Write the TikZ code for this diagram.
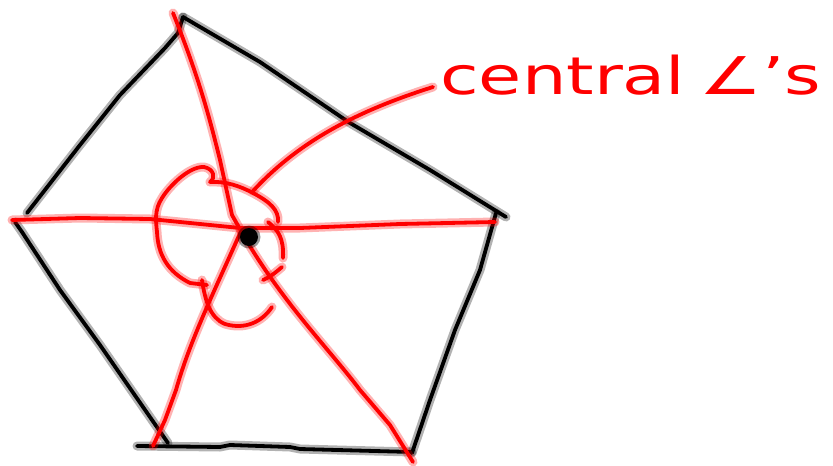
\documentclass[tikz,border=0pt]{standalone}
\usepackage{fontspec}
\setmainfont{DejaVu Sans}
\begin{document}
\begin{tikzpicture}[x=1pt,y=-1pt,
  line cap=round, line join=round,
  blk/.style={draw=black, line width=3.8pt,
    preaction={draw=black, line width=9pt, opacity=0.3}},
  rd/.style={draw=red, line width=3.8pt,
    preaction={draw=red, line width=9pt, opacity=0.3}},
  lbl/.style={text=red, font=\fontsize{52}{52}\selectfont, inner sep=0pt, anchor=base west, xscale=1.35}]
\useasboundingbox (0,0) rectangle (833,466);
% vertices
\coordinate (T) at (183,17);
\coordinate (R) at (506,217);
\coordinate (BR) at (412,453);
\coordinate (BL) at (137,446);
\coordinate (L) at (14,221);
\coordinate (O) at (241,231);
% pentagon (black)
\draw[blk] (T) -- (178,33) -- (165,48) -- (120,95) -- (80,145) -- (27,213);
\draw[blk] (T) -- (260,62) -- (350,123) -- (430,170) -- (R);
\draw[blk] (496,213) -- (480,270) -- (455,330) -- (430,400) -- (BR);
\draw[blk] (BL) -- (220,447) -- (230,445) -- (290,447) -- (300,449) -- (412,452);
\draw[blk] (15,222) -- (22,232) -- (60,290) -- (100,345) -- (168,443);
% red radii
\draw[rd] (173,13) .. controls (200,80) and (210,120) .. (220,160) -- (232,215) -- (O);
\draw[rd] (12,220) -- (80,218) -- (150,219) -- (240,228) -- (300,228) -- (400,224) -- (495,222);
\draw[rd] (O) .. controls (215,290) and (190,340) .. (176,390) -- (165,420) -- (153,446);
\draw[rd] (O) .. controls (280,300) and (330,350) .. (360,390) -- (390,425) -- (413,462);
% leader line
\draw[rd] (253,191) .. controls (300,140) and (360,110) .. (433,87);
% angle arcs
\draw[rd] (278,222) .. controls (279,210) and (270,202) .. (253,193)
  .. controls (240,186) and (225,181) .. (210,182) .. controls (216,178) and (214,169) .. (204,167)
  .. controls (190,166) and (170,185) .. (162,198) .. controls (154,210) and (156,222) .. (157,232)
  .. controls (158,255) and (168,272) .. (190,283) -- (207,285);
\draw[rd] (268,222) .. controls (278,230) and (284,238) .. (283,258);
\draw[rd] (282,267) .. controls (275,273) and (270,277) .. (263,280);
\draw[rd] (202,280) .. controls (205,300) and (210,318) .. (225,324) .. controls (245,330) and (262,322) .. (272,307);
% centre dot
\fill[black, opacity=0.4] (249,237) circle (11.5);
\fill[black] (249,237) circle (9);
% label
\node[lbl] (lab) at (440,94) {central\hspace{0.2em}∠’s};
\end{tikzpicture}
\end{document}
